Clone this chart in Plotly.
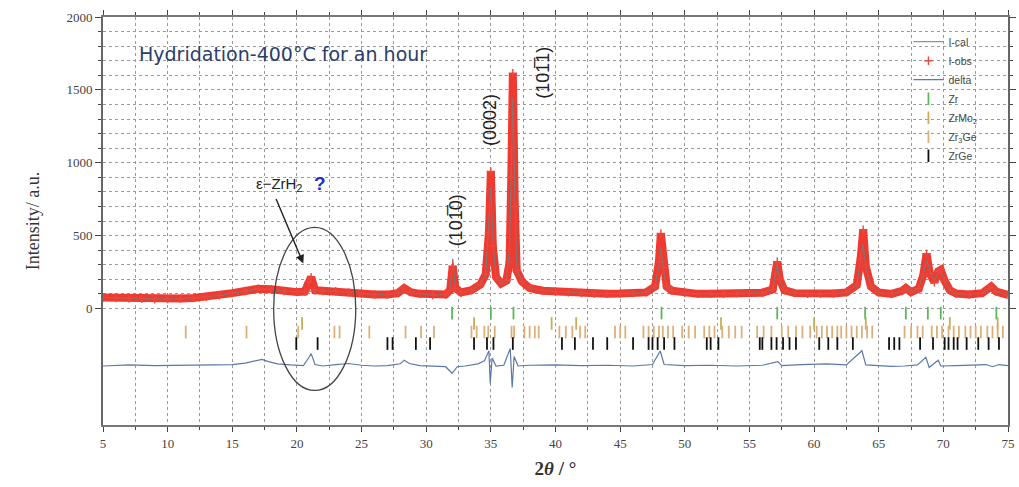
import plotly.graph_objects as go

# ---------------- data ----------------
two_theta = [5, 6, 7, 8, 9, 10, 11, 12, 13, 14,
             15, 16, 17, 18, 19, 20, 20.6, 20.9, 21.1, 21.4,
             22, 23, 24, 25, 26, 27, 27.8, 28.3, 28.8, 29.5,
             30.5, 31.5, 31.85, 32.05, 32.25, 32.7, 33.5, 34.2, 34.6, 34.85,
             35.0, 35.15, 35.4, 35.8, 36.2, 36.45, 36.58, 36.7, 36.85, 37.0,
             37.4, 38, 39, 40, 41, 42, 43, 44, 45, 46,
             47, 47.7, 48.0, 48.15, 48.35, 48.6, 49, 50, 51, 52,
             53, 54, 55, 56, 56.8, 57.0, 57.15, 57.35, 57.7, 58.5,
             59.5, 60.5, 61.5, 62.5, 63.3, 63.6, 63.8, 64.0, 64.4, 65,
             66, 66.8, 67.1, 67.5, 68.1, 68.45, 68.7, 68.95, 69.3, 69.6,
             69.8, 70.1, 70.5, 71, 72, 73, 73.5, 73.7, 74.1, 75]

i_obs = [75, 72, 70, 66, 63, 64, 68, 72, 80, 90,
         105, 120, 135, 132, 120, 112, 115, 180, 215, 125,
         120, 118, 110, 102, 96, 95, 105, 140, 112, 100,
         92, 96, 125, 290, 140, 110, 125, 165, 235, 520,
         940, 430, 215, 170, 190, 320, 900, 1615, 700, 260,
         185, 140, 122, 115, 110, 106, 102, 100, 102, 105,
         110, 150, 320, 515, 280, 150, 122, 106, 100, 100,
         100, 103, 105, 108, 130, 240, 320, 200, 125, 105,
         100, 100, 102, 110, 160, 340, 540, 290, 150, 110,
         100, 120, 140, 112, 135, 230, 375, 240, 180, 255,
         265, 190, 125, 102, 96, 105, 135, 150, 115, 92]

i_cal = [75, 72, 70, 66, 63, 64, 68, 72, 80, 90,
         105, 120, 132, 130, 120, 112, 115, 118, 120, 120,
         120, 118, 110, 102, 96, 95, 105, 118, 110, 100,
         92, 96, 130, 340, 150, 110, 125, 165, 240, 600,
         830, 480, 220, 170, 190, 420, 1100, 1440, 800, 270,
         185, 140, 122, 115, 110, 106, 102, 100, 102, 105,
         110, 150, 300, 420, 260, 150, 122, 106, 100, 100,
         100, 103, 105, 108, 130, 230, 300, 190, 125, 105,
         100, 100, 102, 110, 160, 320, 440, 280, 150, 110,
         100, 118, 135, 112, 135, 240, 330, 260, 185, 250,
         250, 190, 125, 102, 96, 105, 130, 150, 115, 92]

delta_theta = [5, 7, 9, 11, 13, 15, 16, 16.8, 17.3, 17.8,
               18.5, 19.5, 20.5, 20.9, 21.1, 21.4, 22, 23, 24, 25,
               26, 27, 28, 28.3, 28.7, 29.5, 30.5, 31.5, 32.0, 32.4,
               33, 34, 34.5, 34.85, 34.95, 35.1, 35.4, 36, 36.5, 36.65,
               36.8, 37.1, 38, 40, 42, 44, 46, 47.5, 48.1, 48.4,
               50, 52, 54, 56, 57.2, 57.5, 59, 61, 62.5, 63.7,
               64.0, 65, 66, 67, 68, 68.65, 68.9, 69.6, 69.8, 71,
               72, 73.3, 73.8, 74.3, 75]

delta = [-395, -388, -392, -390, -388, -385, -375, -360, -350, -365,
         -380, -388, -392, -340, -310, -385, -395, -385, -378, -390,
         -395, -392, -380, -355, -378, -392, -395, -400, -445, -400,
         -395, -380, -360, -290, -515, -340, -395, -390, -275, -543,
         -330, -395, -390, -388, -392, -390, -395, -385, -292, -385,
         -392, -390, -395, -390, -365, -392, -385, -380, -388, -290,
         -388, -392, -398, -395, -388, -335, -405, -355, -395, -392,
         -388, -385, -400, -385, -392]

zr_pos = [32.0, 35.0, 36.75, 48.2, 57.15, 63.95, 67.1, 68.8, 69.8, 74.1]
zrmo2_pos = [20.4, 33.7, 39.7, 41.6, 52.8, 60.0, 64.0, 70.5, 74.2]
zr2ge_pos = [11.4, 16.1, 20.1, 22.9, 23.3, 25.6, 28.4, 29.6, 30.6,
             33.5, 33.9, 34.5, 34.8, 35.3, 36.6, 36.8, 37.6, 38.0, 38.4, 38.7,
             40.3, 40.8, 41.3, 41.9, 42.3, 44.6, 45.0, 45.4,
             46.8, 47.2, 47.6, 48.0, 48.3, 48.7, 49.1, 49.8, 50.3, 50.8,
             51.5, 51.9, 52.3, 52.9, 53.4, 53.9, 54.4, 55.6, 56.1, 56.7,
             57.5, 58.0, 58.6, 59.1, 59.7, 60.2, 60.6, 61.0, 61.4, 61.8,
             62.1, 62.5, 62.9, 63.3, 63.7, 64.1, 64.5, 67.0, 67.5, 68.0,
             68.4, 69.1, 69.5, 69.9, 70.4, 70.8, 71.2, 71.7, 72.1, 72.5,
             72.9, 73.4, 73.8, 74.2, 74.6]
zrge_pos = [19.95, 21.6, 27.0, 27.4, 29.2, 30.3, 33.7, 34.7, 35.2, 36.7,
            40.5, 41.5, 42.9, 44.0, 46.0, 47.2, 47.5, 47.9, 48.4, 49.2,
            51.7, 52.0, 52.6, 55.8, 56.0, 56.7, 57.1, 57.6, 58.1, 58.6,
            60.4, 61.1, 61.8, 63.0, 65.8, 66.2, 66.6, 68.2, 69.2, 70.1,
            70.4, 70.8, 71.1, 71.8, 72.7, 73.5, 74.3]

y_ticks = [0, 500, 1000, 1500, 2000]
y_minor = [v for v in range(0, 2001, 100) if v % 500 != 0]
x_ticks = list(range(5, 76, 5))

# ---------------- figure ----------------
fig = go.Figure()

fig.add_trace(go.Scatter(x=two_theta, y=i_obs, mode="lines",
                         line=dict(color="#f03a30", width=8),
                         showlegend=False, hoverinfo="skip"))
fig.add_trace(go.Scatter(x=two_theta, y=i_cal, mode="lines", name="I-cal",
                         legendrank=1, line=dict(color="#7a7a7a", width=1)))
fig.add_trace(go.Scatter(x=two_theta, y=i_obs, mode="markers", name="I-obs",
                         legendrank=2,
                         marker=dict(symbol="cross-thin-open", size=6,
                                     color="#e8483e",
                                     line=dict(color="#e8483e", width=1.4))))
fig.add_trace(go.Scatter(x=delta_theta, y=delta, mode="lines", name="delta",
                         legendrank=3, line=dict(color="#5a78ac", width=1.2)))

rows = [("Zr", zr_pos, -32, "#5cb85c", 4),
        ("ZrMo<sub>2</sub>", zrmo2_pos, -103, "#c9ad5a", 5),
        ("Zr<sub>3</sub>Ge", zr2ge_pos, -162, "#dcb07a", 6),
        ("ZrGe", zrge_pos, -241, "#111111", 7)]
for name, pos, level, col, rank in rows:
    fig.add_trace(go.Scatter(x=pos, y=[level] * len(pos), mode="markers",
                             name=name, legendrank=rank,
                             marker=dict(symbol="line-ns-open", size=9,
                                         color=col,
                                         line=dict(color=col, width=1.8))))

serif = "Liberation Serif"
sans = "Liberation Sans"

fig.update_layout(
    width=1019, height=487,
    margin=dict(l=103, r=3, t=17, b=62),
    plot_bgcolor="white", paper_bgcolor="white",
    showlegend=True,
    legend=dict(x=0.89, y=0.975, xanchor="left", yanchor="top",
                bgcolor="rgba(255,255,255,0)", borderwidth=0,
                font=dict(family=sans, size=10.5, color="#444"),
                tracegroupgap=0, itemwidth=30),
    xaxis=dict(range=[5, 75], tickmode="array", tickvals=x_ticks,
               ticks="outside", ticklen=5, tickwidth=1.2, tickcolor="#444",
               showline=True, linecolor="#777", linewidth=2, mirror="allticks",
               showgrid=True, gridcolor="#9a9a9a", griddash="dot", gridwidth=1,
               zeroline=False,
               minor=dict(dtick=2.5, tick0=5, ticks="outside", ticklen=3,
                          tickcolor="#444", showgrid=True, gridcolor="#9a9a9a",
                          griddash="dot"),
               tickfont=dict(family=serif, size=13, color="#444"),
               title=dict(text="<b>2<i>θ</i> / °</b>", standoff=12,
                          font=dict(family=serif, size=19, color="#333"))),
    yaxis=dict(range=[-800, 2000], tickmode="array", tickvals=y_ticks,
               ticks="outside", ticklen=6, tickwidth=1.2, tickcolor="#444",
               showline=True, linecolor="#666", linewidth=2, mirror="allticks",
               showgrid=True, gridcolor="#9a9a9a", griddash="dot", gridwidth=1,
               zeroline=False,
               minor=dict(tickmode="array", tickvals=y_minor, ticks="outside",
                          ticklen=3, tickcolor="#444", showgrid=True,
                          gridcolor="#9a9a9a", griddash="dot"),
               tickfont=dict(family=serif, size=13, color="#444"),
               title=dict(text="Intensity/ a.u.", standoff=22,
                          font=dict(family=serif, size=18, color="#333"))),
)

# ellipse marking the questioned phase
fig.add_shape(type="circle", xref="x", yref="y", x0=18.2, x1=24.55,
              y0=-563, y1=556, line=dict(color="#444", width=1.3))

annotations = [
    dict(x=18.9, y=1749, text="Hydridation-400°C for an hour", showarrow=False,
         font=dict(family="DejaVu Sans", size=19, color="#2c3d6b")),
    dict(x=20.49, y=309, ax=18.34, ay=761, axref="x", ayref="y", text="",
         showarrow=True, arrowhead=2, arrowsize=1.2, arrowwidth=1.4,
         arrowcolor="#222"),
    dict(x=18.6, y=850, text="ε−ZrH<sub>2</sub>", showarrow=False,
         font=dict(family=sans, size=15, color="#222")),
    dict(x=21.8, y=857, text="<b>?</b>", showarrow=False,
         font=dict(family=sans, size=19, color="#1a2fcc")),
    dict(x=32.3, y=604, text="(101\u03050)", textangle=-90, showarrow=False,
         font=dict(family=sans, size=18, color="#222")),
    dict(x=34.98, y=1290, text="(0002)", textangle=-90, showarrow=False,
         font=dict(family=sans, size=18, color="#222")),
    dict(x=38.97, y=1619, text="(101\u03051)", textangle=-90, showarrow=False,
         font=dict(family=sans, size=18, color="#222")),
]
for a in annotations:
    fig.add_annotation(**a)

fig.write_html("out.html")
